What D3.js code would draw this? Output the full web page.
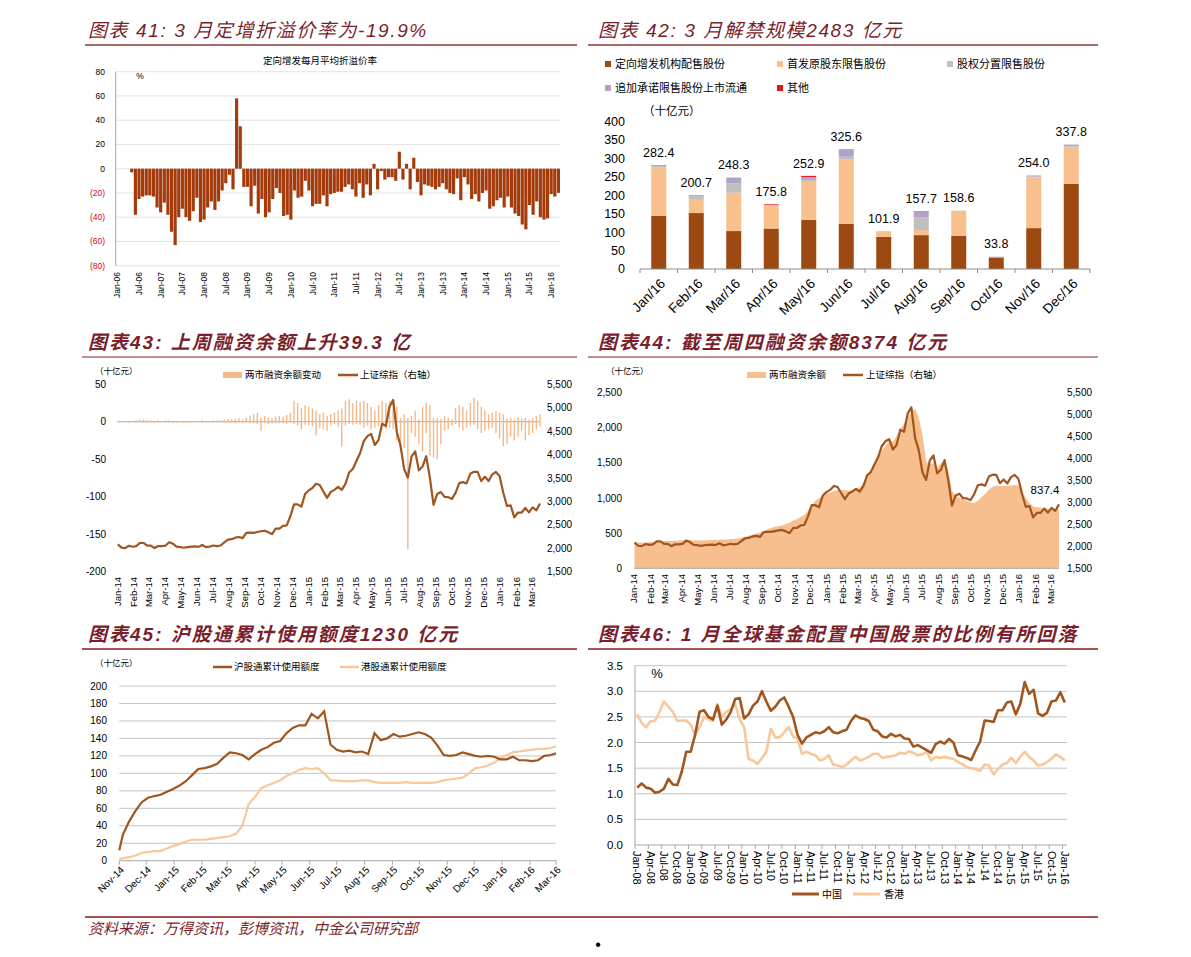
<!DOCTYPE html>
<html><head><meta charset="utf-8">
<script src="https://cdn.jsdelivr.net/npm/d3@7"></script>
<style>
body{margin:0;background:#fff;}
svg{display:block;}
</style></head><body>
<script>
// ---------------- DATA ----------------
const titles = ["图表 41: 3 月定增折溢价率为-19.9%","图表 42: 3 月解禁规模2483 亿元","图表43: 上周融资余额上升39.3 亿","图表44: 截至周四融资余额8374 亿元","图表45: 沪股通累计使用额度1230 亿元","图表46: 1 月全球基金配置中国股票的比例有所回落"];
const sourceText = "资料来源：万得资讯，彭博资讯，中金公司研究部";

// Chart 41: monthly average premium/discount of private placements (%), Jan-06 .. Mar-16
const premium41 = [null,null,null,null,-3,-38,-25,-23,-22,-22,
 -23,-32,-36,-28,-38,-52,-63,-40,-33,-40,
 -43,-35,-24,-44,-42,-32,-27,-34,-27,-18,
 -12,-5,-17,58,35,-15,-15,-31,-14,-37,
 -25,-40,-36,-25,-16,-20,-39,-38,-42,-18,
 -24,-23,-10,-18,-31,-29,-29,-22,-31,-21,
 -20,-19,-19,-15,-13,-17,-23,-12,-24,-13,
 -22,4,-17,-2,-9,-7,-7,-10,14,-9,
 4,-17,9,-11,-22,-13,-14,-15,-17,-15,
 -12,-17,-20,-21,-8,-26,-7,-13,-25,-21,
 -27,-20,-18,-33,-31,-26,-24,-32,-23,-32,
 -37,-39,-46,-50,-30,-38,-27,-40,-42,-41,
 -21,-23,-19.9];
const ticks41 = [-80,-60,-40,-20,0,20,40,60,80];
const subtitle41 = "定向增发每月平均折溢价率";

// Chart 42: 2016 unlock schedule (十亿元)
const months42 = ["Jan/16","Feb/16","Mar/16","Apr/16","May/16","Jun/16","Jul/16","Aug/16","Sep/16","Oct/16","Nov/16","Dec/16"];
const placement42 = [144,152,103,110,133,123,87,92,90.5,31.5,111,231];
const ipoHolders42 = [131,38,104,64,106,174,13.5,14,68,1.3,138,101];
const reform42 = [4.4,8,26,0,3,8,0,34,0,0.5,2,2];
const pledged42 = [3,2.7,15.3,0,7.9,20.6,1.4,17.7,0.1,0.5,3,3.8];
const other42 = [0,0,0,1.8,3,0,0,0,0,0,0,0];
const names42 = ["定向增发机构配售股份","首发原股东限售股份","股权分置限售股份","追加承诺限售股份上市流通","其他"];
const colors42 = ["#9C4A12","#F8C08D","#BFBFBF","#B3A2C7","#E8141B"];
const ticks42 = [0,50,100,150,200,250,300,350,400];

// Charts 43/44: weekly (Fridays) Jan-14 .. Mar-16
const sse = [2083,2013,2004,2054,2033, 2044,2115,2113,2056, 2057,2004,2047,2046, 2058,2130,2097,2036,
 2026,2011,2026,2035,2039, 2030,2070,2024,2036, 2059,2047,2059,2127, 2185,2194,2226,2240,2217,
 2327,2332,2329,2347, 2364,2374,2341,2302,2420, 2418,2478,2487,2683, 2938,2938,2890,3157,
 3235,3286,3376,3351,3210, 3076,3204,3247,3311, 3248,3373,3617,3692, 3864,4034,4287,4394,
 4442,4205,4308,4658,4611, 5023,5166,4478,4192, 3687,3510,3957,4070,3664, 3744,3965,3507,2927,
 3160,3200,3097,3092, 3053,3183,3391,3412,3383, 3590,3632,3630,3436, 3525,3434,3578,3628,
 3539,3186,2901,2916,2660, 2763,2763,2860,2767, 2874,2810,2955];
const margin = [370,368,365,368,370, 372,378,385,390, 392,388,392,395, 398,402,402,398,
 395,395,398,400,402, 405,408,410,410, 415,420,425,435, 450,465,480,495,505,
 530,555,575,590, 600,610,630,650,680, 700,730,760,820, 900,960,1000,1030,
 1060,1080,1100,1110,1120, 1110,1105,1120,1140, 1150,1210,1300,1380, 1470,1580,1680,1740,
 1820,1800,1880,1980,2060, 2150,2230,2270,2150, 1900,1520,1480,1500,1420, 1500,1520,1400,1100,
 1040,1000,980,960, 940,930,960,1010,1060, 1120,1160,1180,1170, 1170,1175,1180,1185,
 1180,1100,1000,930,880, 870,865,860,850, 845,840,837.4];
const chgUp = [1,1,1,1,1, 2,3,3,2, 2,1,2,1, 2,2,1,1, 1,1,1,1,1, 1,2,1,1, 2,2,2,3, 4,4,4,5,3,
 6,8,10,12, 5,8,6,5,7, 8,7,9,12, 28,25,18,22,
 20,18,15,10,12, 8,10,12,15, 18,28,30,25, 28,26,28,25, 20,15,22,28,25, 28,30,20,5,
 10,5,8,15,3, 20,25,22,5, 5,4,8,6, 3,18,22,20,15, 25,32,28,20, 15,10,12,14,
 12,10,4,5,3, 6,4,5,3, 5,8,10];
const chgDown = [0,-1,0,-1,0, -1,0,-1,-1, -1,-2,-1,-1, -1,-1,-2,-1, -1,-2,-1,-1,0, -1,-1,-1,-1, -1,-1,0,-1, -1,-1,-2,-1,-2,
 -1,-2,-2,-3, -12,-2,-3,-2,-2, -2,-2,-3,-1, -3,-5,-10,-4,
 -5,-6,-18,-8,-10, -12,-5,-3,-6, -33,-5,-3,-4, -3,-4,-8,-5, -10,-8,-6,-5,-10, -8,-10,-25,-40,
 -35,-170,-15,-20,-30, -40,-15,-45,-48, -50,-30,-12,-10, -5,-3,-8,-12,-8, -5,-4,-10,-15, -12,-10,-8,-15,
 -22,-33,-30,-20,-25, -20,-12,-25,-18, -15,-10,-6];
const ticksL43 = [-200,-150,-100,-50,0,50];
const ticksR = [1500,2000,2500,3000,3500,4000,4500,5000,5500];
const ticksL44 = [0,500,1000,1500,2000,2500];

// Chart 45: Stock Connect cumulative quota used (十亿元)
const sh45 = [12, 30,45,57,67,72,74, 75.5,79,82,86,91, 98,105,106,108, 111,118,124,123, 121,116,122,127,
 130,135,137,146,152, 155,155,168,163, 171,133,127,125,126, 124,125,122,146, 138,140,145,142,
 143,145,147,145,141, 132,121,120,121, 124,122,120,119, 120,119,116,116,119, 115,115,114,115, 120,121, 123];
const hk45 = [2, 3,4,6,9,10,11, 11,14,17,19,22, 24,24,24,25, 26,27,28,31, 40,65,73,83,
 86,89,92,97,100, 104,106,105,106, 100,92,92,91,91, 91,92,92,90, 89,89,89,89,
 90,89,89,89,89, 90,92,93,94, 95,100,106,107, 109,112,117,121,124, 125,126,127,128, 128,129, 131];
const names45 = ["沪股通累计使用额度","港股通累计使用额度"];
const ticks45 = [0,20,40,60,80,100,120,140,160,180,200];

// Chart 46: global funds' allocation (%), monthly Jan-08 .. Jan-16
const china46 = [1.12,1.20,1.12,1.10,1.02,1.04,1.10,1.29,1.18,1.17,
 1.43,1.82,1.82,2.15,2.60,2.63,2.50,2.45,2.72,2.35,
 2.45,2.60,2.85,2.87,2.47,2.55,2.72,2.80,3.00,2.80,
 2.62,2.70,2.82,2.88,2.70,2.50,2.15,1.98,2.10,2.15,
 2.20,2.18,2.22,2.30,2.20,2.18,2.22,2.25,2.42,2.53,
 2.48,2.46,2.42,2.25,2.22,2.12,2.10,2.17,2.12,2.15,
 2.08,2.07,1.92,1.95,1.90,1.85,1.80,1.97,2.02,1.98,
 2.07,2.00,1.75,1.73,1.70,1.66,1.85,2.02,2.43,2.42,
 2.40,2.63,2.63,2.78,2.80,2.55,2.75,3.18,2.95,3.03,
 2.57,2.52,2.58,2.80,2.82,2.98,2.78];
const hk46 = [2.55,2.38,2.30,2.42,2.42,2.60,2.80,2.70,2.60,2.42,
 2.43,2.43,2.35,2.15,2.30,2.50,2.45,2.42,2.75,2.50,
 2.60,2.65,2.75,2.45,2.30,1.68,1.65,1.58,1.70,1.82,
 2.27,2.10,2.10,2.20,2.30,2.12,2.07,1.78,1.82,1.78,
 1.75,1.65,1.68,1.75,1.57,1.55,1.52,1.57,1.65,1.72,
 1.65,1.68,1.72,1.78,1.78,1.70,1.72,1.73,1.75,1.80,
 1.78,1.83,1.80,1.75,1.77,1.82,1.65,1.72,1.70,1.72,
 1.70,1.68,1.62,1.58,1.52,1.50,1.48,1.45,1.57,1.55,
 1.38,1.48,1.57,1.60,1.70,1.60,1.72,1.82,1.72,1.65,
 1.55,1.57,1.62,1.68,1.77,1.72,1.65];
const names46 = ["中国","香港"];
const ticks46 = [0,0.5,1,1.5,2,2.5,3,3.5];

// ---------------- DRAW ----------------
const FONT = '"Liberation Sans", Arial, "Noto Sans CJK SC", sans-serif';
const TITLE_C = "#7A1F2B";
const BROWN = "#A0561E", PEACH = "#F7BF8D";
const fmtMY = d3.timeFormat("%b-%y");
const svg = d3.select("body").append("svg").attr("width",1191).attr("height",957).style("font-family",FONT);

function txt(x,y,t,size,opts={}){
  const e = svg.append("text").attr("x",x).attr("y",y).text(t).attr("font-size",size).attr("fill",opts.fill||"#000");
  if(opts.anchor) e.attr("text-anchor",opts.anchor);
  if(opts.dy) e.attr("dy",opts.dy);
  if(opts.weight) e.attr("font-weight",opts.weight);
  if(opts.style) e.attr("font-style",opts.style);
  if(opts.ls) e.attr("letter-spacing",opts.ls);
  return e;
}
function rule(x1,x2,y,c,w){svg.append("line").attr("x1",x1).attr("x2",x2).attr("y1",y).attr("y2",y).attr("stroke",c).attr("stroke-width",w);}

// titles and rules
txt(88,37,titles[0],19,{fill:TITLE_C,style:"italic",ls:1.6});
txt(598,37,titles[1],19,{fill:TITLE_C,style:"italic",ls:1.6});
txt(88,349,titles[2],19,{fill:TITLE_C,style:"italic",weight:"bold",ls:2});
txt(598,349,titles[3],19,{fill:TITLE_C,style:"italic",weight:"bold",ls:2});
txt(88,641,titles[4],19,{fill:TITLE_C,style:"italic",weight:"bold",ls:2});
txt(598,641,titles[5],19,{fill:TITLE_C,style:"italic",weight:"bold",ls:2});
rule(85,577,45,"#A86A6A",2); rule(588,1098,45,"#A86A6A",2);
rule(82,577,357,"#A86A6A",1.5); rule(588,1098,357,"#A86A6A",1.5);
rule(82,577,649,"#8B1A1A",1.5); rule(588,1098,649,"#8B1A1A",1.5);
rule(85,1098,917,"#8B1A1A",1.5);
txt(88,934,sourceText,15,{fill:TITLE_C,style:"italic"});
txt(598,950,"•",16,{anchor:"middle"});

// ---------- Chart 41 ----------
{
  const months = d3.timeMonth.range(new Date(2006,0,1), new Date(2016,3,1));
  const x = d3.scaleBand().domain(d3.range(months.length)).range([115.7,560]).paddingInner(0.12);
  const y = d3.scaleLinear().domain([-80,80]).range([265.7,71.7]);
  const g = svg.append("g");
  g.selectAll("line.grid").data(ticks41).join("line")
    .attr("x1",115.7).attr("x2",560).attr("y1",d=>y(d)).attr("y2",d=>y(d))
    .attr("stroke","#dcdcdc").attr("stroke-width",0.8);
  g.append("line").attr("x1",115.7).attr("x2",115.7).attr("y1",y(80)).attr("y2",y(-80)).attr("stroke","#a6a6a6");
  g.selectAll("text.yl").data(ticks41).join("text")
    .attr("x",105).attr("y",d=>y(d)).attr("dy","0.35em").attr("text-anchor","end").attr("font-size",8.5)
    .attr("fill",d=>d<0?"#E00000":"#000").text(d=>d<0?`(${-d})`:d);
  g.selectAll("rect").data(premium41.map((v,i)=>({v,i})).filter(d=>d.v!==null)).join("rect")
    .attr("x",d=>x(d.i)).attr("width",x.bandwidth())
    .attr("y",d=>y(Math.max(0,d.v))).attr("height",d=>Math.abs(y(d.v)-y(0)))
    .attr("fill","#A33B0C");
  g.selectAll("text.xl").data(months.map((m,i)=>({m,i})).filter(d=>d.i%6===0)).join("text")
    .attr("transform",d=>`translate(${x(d.i)+x.bandwidth()/2},272) rotate(-90)`)
    .attr("dy","0.35em").attr("text-anchor","end").attr("font-size",8.5).text(d=>fmtMY(d.m));
  txt(320,64,subtitle41,9.5,{anchor:"middle"});
  txt(140,79,"%",8.5,{anchor:"middle"});
}

// ---------- Chart 42 ----------
{
  const keys = ["placement","ipo","reform","pledged","other"];
  const table = months42.map((m,i)=>({m,placement:placement42[i],ipo:ipoHolders42[i],reform:reform42[i],pledged:pledged42[i],other:other42[i]}));
  const series = d3.stack().keys(keys)(table);
  const x = d3.scaleBand().domain(months42).range([640,1090]).paddingInner(0.6).paddingOuter(0.3);
  const y = d3.scaleLinear().domain([0,400]).range([269,121.7]);
  const g = svg.append("g");
  series.forEach((s,k)=>{
    g.selectAll(null).data(s).join("rect")
      .attr("x",d=>x(d.data.m)).attr("width",x.bandwidth())
      .attr("y",d=>y(d[1])).attr("height",d=>Math.max(0,y(d[0])-y(d[1])))
      .attr("fill",colors42[k]);
  });
  const step = x.step();
  g.append("line").attr("x1",640).attr("x2",1090).attr("y1",269).attr("y2",269).attr("stroke","#8c8c8c");
  g.selectAll("line.tk").data(d3.range(months42.length+1)).join("line")
    .attr("x1",d=>640+d*step).attr("x2",d=>640+d*step).attr("y1",269).attr("y2",273).attr("stroke","#8c8c8c");
  g.selectAll("text.yl").data(ticks42).join("text")
    .attr("x",625).attr("y",d=>y(d)).attr("dy","0.35em").attr("text-anchor","end").attr("font-size",12.5).text(d=>d);
  g.selectAll("text.xl").data(months42).join("text")
    .attr("transform",d=>`translate(${x(d)+x.bandwidth()/2+4},281) rotate(-45)`)
    .attr("text-anchor","end").attr("dy","0.35em").attr("font-size",13.5).text(d=>d);
  const totals = table.map(d=>keys.reduce((a,k)=>a+d[k],0));
  g.selectAll("text.tot").data(months42).join("text")
    .attr("x",d=>x(d)+x.bandwidth()/2).attr("y",(d,i)=>y(totals[i])-12.5).attr("dy","0.35em")
    .attr("text-anchor","middle").attr("font-size",12.5).text((d,i)=>d3.format(".1f")(totals[i]));
  const legX = [605,777,947];
  names42.forEach((n,i)=>{
    const lx = legX[i%3], ly = 64 + Math.floor(i/3)*24;
    g.append("rect").attr("x",lx).attr("y",ly-3).attr("width",6).attr("height",6).attr("fill",colors42[i]);
    txt(lx+10,ly,n,11,{dy:"0.35em"});
  });
  txt(643,111,"（十亿元）",11.5,{dy:"0.35em"});
}

// shared weekly dates
const weeks = d3.timeFriday.range(new Date(2014,0,3), new Date(2016,2,19));
const start43 = new Date(2014,0,2), end43 = new Date(2016,2,18);
const monthTicks43 = d3.range(27).map(k=>d3.timeMonth.offset(start43,k));

// ---------- Chart 43 ----------
{
  const x = d3.scaleTime().domain([start43,end43]).range([117.3,540]);
  const yL = d3.scaleLinear().domain([-200,50]).range([571.7,384.3]);
  const yR = d3.scaleLinear().domain([1500,5500]).range([571.7,384.3]);
  const g = svg.append("g");
  g.append("line").attr("x1",117.3).attr("x2",540).attr("y1",yL(0)).attr("y2",yL(0)).attr("stroke","#a6a6a6");
  g.selectAll("rect.up").data(weeks).join("rect")
    .attr("x",d=>x(d)-0.7).attr("width",1.4)
    .attr("y",(d,i)=>yL(chgUp[i])).attr("height",(d,i)=>yL(0)-yL(chgUp[i])).attr("fill","#F5B888");
  g.selectAll("rect.dn").data(weeks).join("rect")
    .attr("x",d=>x(d)-0.7).attr("width",1.4)
    .attr("y",yL(0)).attr("height",(d,i)=>yL(chgDown[i])-yL(0)).attr("fill","#F5B888");
  g.append("path").datum(sse).attr("fill","none").attr("stroke",BROWN).attr("stroke-width",2.2).attr("stroke-linejoin","round")
    .attr("d",d3.line().x((d,i)=>x(weeks[i])).y(d=>yR(d)));
  g.selectAll("text.yl").data(ticksL43).join("text")
    .attr("x",106).attr("y",d=>yL(d)).attr("dy","0.35em").attr("text-anchor","end").attr("font-size",10).text(d=>d);
  g.selectAll("text.yr").data(ticksR).join("text")
    .attr("x",547).attr("y",d=>yR(d)).attr("dy","0.35em").attr("font-size",10).text(d=>d3.format(",")(d));
  g.selectAll("text.xl").data(monthTicks43).join("text")
    .attr("transform",d=>`translate(${x(d)},577) rotate(-90)`)
    .attr("dy","0.35em").attr("text-anchor","end").attr("font-size",9.5).text(d=>fmtMY(d));
  txt(95,371,"（十亿元）",8.5,{dy:"0.35em"});
  g.append("rect").attr("x",223).attr("y",372).attr("width",19).attr("height",6).attr("fill","#F5B888");
  txt(245,375,"两市融资余额变动",9.5,{dy:"0.35em"});
  g.append("line").attr("x1",338).attr("x2",358).attr("y1",375).attr("y2",375).attr("stroke",BROWN).attr("stroke-width",2.5);
  txt(360,375,"上证综指（右轴）",9.5,{dy:"0.35em"});
}

// ---------- Chart 44 ----------
{
  const x = d3.scaleTime().domain([start43,end43]).range([634,1059]);
  const yL = d3.scaleLinear().domain([0,2500]).range([568.3,392.7]);
  const yR = d3.scaleLinear().domain([1500,5500]).range([568.3,392.7]);
  const g = svg.append("g");
  g.append("path").datum(margin).attr("fill",PEACH)
    .attr("d",d3.area().x((d,i)=>x(weeks[i])).y0(yL(0)).y1(d=>yL(d)));
  g.append("path").datum(sse).attr("fill","none").attr("stroke",BROWN).attr("stroke-width",2.2).attr("stroke-linejoin","round")
    .attr("d",d3.line().x((d,i)=>x(weeks[i])).y(d=>yR(d)));
  g.append("line").attr("x1",634).attr("x2",1059).attr("y1",568.3).attr("y2",568.3).attr("stroke","#a6a6a6");
  g.selectAll("text.yl").data(ticksL44).join("text")
    .attr("x",622).attr("y",d=>yL(d)).attr("dy","0.35em").attr("text-anchor","end").attr("font-size",10).text(d=>d3.format(",")(d));
  g.selectAll("text.yr").data(ticksR).join("text")
    .attr("x",1067).attr("y",d=>yR(d)).attr("dy","0.35em").attr("font-size",10).text(d=>d3.format(",")(d));
  g.selectAll("text.xl").data(monthTicks43).join("text")
    .attr("transform",d=>`translate(${x(d)},574) rotate(-90)`)
    .attr("dy","0.35em").attr("text-anchor","end").attr("font-size",9.5).text(d=>fmtMY(d));
  const last = margin.length-1;
  txt(x(weeks[last])-14, yL(margin[last])-15, d3.format(".1f")(margin[last]),11.5,{anchor:"middle"});
  txt(606,371,"（十亿元）",8.5,{dy:"0.35em"});
  g.append("rect").attr("x",747).attr("y",372).attr("width",19).attr("height",6).attr("fill",PEACH);
  txt(769,375,"两市融资余额",9.5,{dy:"0.35em"});
  g.append("line").attr("x1",843).attr("x2",863).attr("y1",375).attr("y2",375).attr("stroke",BROWN).attr("stroke-width",2.5);
  txt(866,375,"上证综指（右轴）",9.5,{dy:"0.35em"});
}

// ---------- Chart 45 ----------
{
  const s = new Date(2014,10,17), e = new Date(2016,2,17);
  const dates = [s, ...d3.timeFriday.range(new Date(2014,10,21), new Date(2016,2,12)), e];
  const x = d3.scaleTime().domain([s,e]).range([119.3,556]);
  const y = d3.scaleLinear().domain([0,200]).range([860.7,686]);
  const g = svg.append("g");
  g.selectAll("line.grid").data(ticks45.slice(1)).join("line")
    .attr("x1",119.3).attr("x2",556).attr("y1",d=>y(d)).attr("y2",d=>y(d)).attr("stroke","#c4c4c4").attr("stroke-width",1);
  const tdates = d3.range(17).map(k=>d3.timeMonth.offset(s,k));
  g.append("line").attr("x1",119.3).attr("x2",556).attr("y1",y(0)).attr("y2",y(0)).attr("stroke","#a6a6a6");
  g.selectAll("line.tk").data(tdates).join("line")
    .attr("x1",d=>x(d)).attr("x2",d=>x(d)).attr("y1",y(0)).attr("y2",y(0)+4).attr("stroke","#a6a6a6");
  g.append("path").datum(hk45).attr("fill","none").attr("stroke","#F8C79A").attr("stroke-width",2.2)
    .attr("d",d3.line().x((d,i)=>x(dates[i])).y(d=>y(d)));
  g.append("path").datum(sh45).attr("fill","none").attr("stroke",BROWN).attr("stroke-width",2.2)
    .attr("d",d3.line().x((d,i)=>x(dates[i])).y(d=>y(d)));
  g.selectAll("text.yl").data(ticks45).join("text")
    .attr("x",107).attr("y",d=>y(d)).attr("dy","0.35em").attr("text-anchor","end").attr("font-size",10).text(d=>d);
  g.selectAll("text.xl").data(tdates).join("text")
    .attr("transform",d=>`translate(${x(d)+3},868) rotate(-45)`)
    .attr("dy","0.35em").attr("text-anchor","end").attr("font-size",10).text(d=>fmtMY(d));
  txt(95,663,"（十亿元）",8.5,{dy:"0.35em"});
  g.append("line").attr("x1",213).attr("x2",232).attr("y1",667).attr("y2",667).attr("stroke",BROWN).attr("stroke-width",2.5);
  txt(234,667,names45[0],9.5,{dy:"0.35em"});
  g.append("line").attr("x1",340).attr("x2",359).attr("y1",667).attr("y2",667).attr("stroke","#F8C79A").attr("stroke-width",2.5);
  txt(361,667,names45[1],9.5,{dy:"0.35em"});
}

// ---------- Chart 46 ----------
{
  const months = d3.timeMonth.range(new Date(2008,0,1), new Date(2016,1,1));
  const x = d3.scaleBand().domain(d3.range(months.length)).range([635,1067]);
  const cx = i => x(i)+x.bandwidth()/2;
  const y = d3.scaleLinear().domain([0,3.5]).range([845,665.7]);
  const g = svg.append("g");
  g.selectAll("line.grid").data(ticks46.slice(1)).join("line")
    .attr("x1",635).attr("x2",1067).attr("y1",d=>y(d)).attr("y2",d=>y(d)).attr("stroke","#c4c4c4");
  g.append("line").attr("x1",635).attr("x2",635).attr("y1",y(3.5)).attr("y2",y(0)).attr("stroke","#a6a6a6");
  g.append("line").attr("x1",635).attr("x2",1067).attr("y1",y(0)).attr("y2",y(0)).attr("stroke","#a6a6a6");
  const lab = months.map((m,i)=>({m,i})).filter(d=>d.i%3===0);
  g.selectAll("line.tk").data(lab).join("line")
    .attr("x1",d=>x(d.i)).attr("x2",d=>x(d.i)).attr("y1",y(0)).attr("y2",y(0)+4).attr("stroke","#a6a6a6");
  g.append("path").datum(hk46).attr("fill","none").attr("stroke","#F8C79A").attr("stroke-width",2.6).attr("stroke-linejoin","round")
    .attr("d",d3.line().x((d,i)=>cx(i)).y(d=>y(d)));
  g.append("path").datum(china46).attr("fill","none").attr("stroke",BROWN).attr("stroke-width",2.6).attr("stroke-linejoin","round")
    .attr("d",d3.line().x((d,i)=>cx(i)).y(d=>y(d)));
  g.selectAll("text.yl").data(ticks46).join("text")
    .attr("x",623).attr("y",d=>y(d)).attr("dy","0.35em").attr("text-anchor","end").attr("font-size",11.5).text(d=>d3.format(".1f")(d));
  g.selectAll("text.xl").data(lab).join("text")
    .attr("transform",d=>`translate(${cx(d.i)},851) rotate(90)`)
    .attr("dy","0.35em").attr("font-size",11).text(d=>fmtMY(d.m));
  txt(657,673,"%",13,{anchor:"middle",dy:"0.35em"});
  g.append("line").attr("x1",792).attr("x2",819).attr("y1",894).attr("y2",894).attr("stroke",BROWN).attr("stroke-width",3);
  txt(822,894,names46[0],10,{dy:"0.35em"});
  g.append("line").attr("x1",853).attr("x2",880).attr("y1",894).attr("y2",894).attr("stroke","#F8C79A").attr("stroke-width",3);
  txt(884,894,names46[1],10,{dy:"0.35em"});
}
</script></body></html>
